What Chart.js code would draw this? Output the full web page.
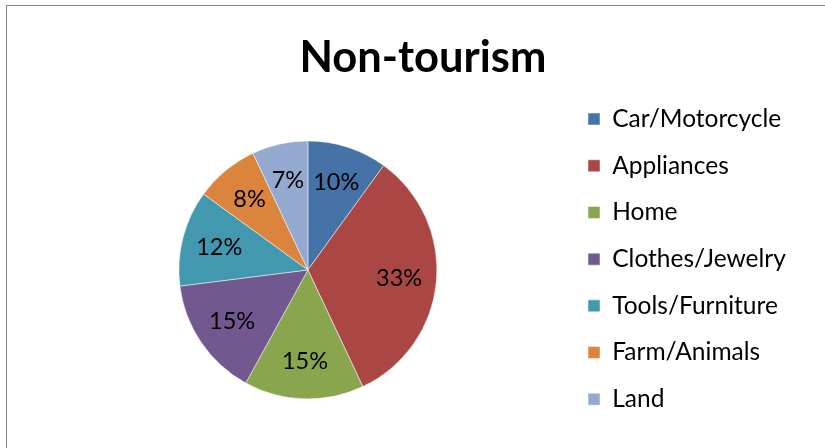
<!DOCTYPE html>
<html>
<head>
<meta charset="utf-8">
<script src="https://cdn.jsdelivr.net/npm/chart.js@4"></script>
<style>
  html, body { margin: 0; padding: 0; background: #fff; overflow: hidden; }
  #frame { position: absolute; left: 6px; top: 5px; width: 1000px; height: 600px; border: 1px solid #868686; }
  #wrap { position: absolute; left: 0; top: 0; width: 825px; height: 448px; }
</style>
</head>
<body>
<div id="frame"></div>
<div id="wrap"><canvas id="chart" width="825" height="448"></canvas></div>
<script>
const categories = ['Car/Motorcycle', 'Appliances', 'Home', 'Clothes/Jewelry', 'Tools/Furniture', 'Farm/Animals', 'Land'];
const shares = [10, 33, 15, 15, 12, 8, 7];
const colors = ['#4572A7', '#AA4643', '#89A54E', '#71588F', '#4198AF', '#DB843D', '#93A9CF'];
const chartTitle = 'Non-tourism';

const FONT = 'Lato';
const legendSize = 24.5;
const legendPad = 46.7 - legendSize;
const boxSize = 12;

// measure the widest legend label so the legend lands where it does in the original
const mctx = document.createElement('canvas').getContext('2d');
mctx.font = legendSize + 'px ' + FONT;
const maxText = Math.max(...categories.map(c => mctx.measureText(c).width));
const legendLeft = 588 - legendPad;
const padRight = 825 - legendLeft - (legendPad + boxSize + legendSize / 2 + maxText + 10);

const pctLabels = {
    id: 'pctLabels',
    afterDatasetsDraw(chart) {
        const ctx = chart.ctx;
        const meta = chart.getDatasetMeta(0);
        ctx.save();
        ctx.font = '23.5px ' + FONT;
        ctx.fillStyle = '#000';
        ctx.textAlign = 'center';
        ctx.textBaseline = 'middle';
        meta.data.forEach((arc, i) => {
            const p = arc.getProps(['x', 'y', 'startAngle', 'endAngle', 'outerRadius'], true);
            const mid = (p.startAngle + p.endAngle) / 2;
            const r = p.outerRadius * 0.71;
            ctx.fillText(shares[i] + '%', p.x + Math.cos(mid) * r, p.y + Math.sin(mid) * r);
        });
        ctx.restore();
    }
};

new Chart(document.getElementById('chart').getContext('2d'), {
    type: 'pie',
    data: {
        labels: categories,
        datasets: [{
            data: shares,
            backgroundColor: colors,
            borderColor: 'rgba(255,255,255,0.5)',
            borderWidth: 1,
            radius: 129
        }]
    },
    options: {
        responsive: false,
        animation: false,
        layout: { padding: { top: 4, left: 50, right: padRight, bottom: 14.3 } },
        plugins: {
            title: {
                display: true,
                text: chartTitle,
                color: '#000',
                font: { family: FONT, size: 43.5, weight: 'bold', lineHeight: 1.2 },
                padding: { top: 27.9, bottom: 22 }
            },
            legend: {
                position: 'right',
                align: 'end',
                labels: {
                    color: '#000',
                    font: { family: FONT, size: legendSize },
                    boxWidth: boxSize,
                    boxHeight: boxSize,
                    padding: legendPad
                }
            },
            tooltip: { enabled: false }
        }
    },
    plugins: [pctLabels]
});
</script>
</body>
</html>
